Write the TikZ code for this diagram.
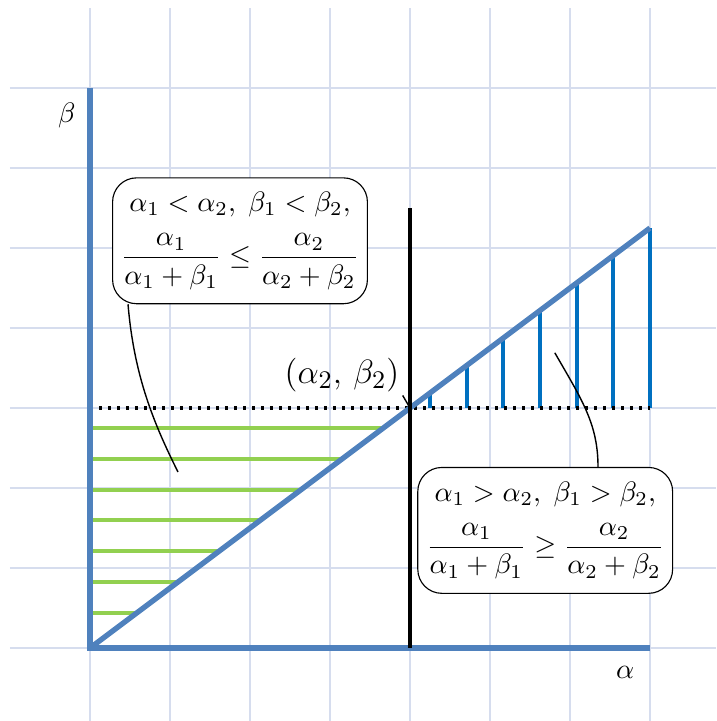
\documentclass[tikz,border=0pt]{standalone}
\usepackage{amsmath, amssymb}
\usepackage{tikz}
\usetikzlibrary{positioning, calc}

\definecolor{axisblue}{RGB}{79,129,189}
\definecolor{hatchblue}{RGB}{0,112,192}
\definecolor{hatchgreen}{RGB}{146,208,80}
\definecolor{gridblue}{RGB}{214,221,238}

\begin{document}
\begin{tikzpicture}[
      gridline/.style={gridblue,line width=0.5pt},
      axis/.style={axisblue,line width=1.9pt},
      hatchg/.style={hatchgreen,line width=1.4pt},
      hatchb/.style={hatchblue,line width=1.4pt},
      note/.style={draw,rounded corners=3mm,align=center,inner xsep=3pt,
                   inner ysep=5pt,fill=white,font=\fontsize{10.2}{13}\selectfont},
      lead/.style={line width=0.5pt}]
  \useasboundingbox (-1.125,-0.9125) rectangle (7.825,8.1);

  \foreach \i in {0,...,7} {
    \draw[gridline] (-1,\i) -- (7.825,\i);
    \draw[gridline] (\i,-0.9125) -- (\i,8);
  }

  % hatching of the two regions
  \foreach \k in {0,...,6} {
    \pgfmathsetmacro{\yy}{0.44+0.385*\k}
    \draw[hatchg] (0.03,\yy) -- ({\yy/0.75},\yy);
    \pgfmathsetmacro{\xx}{4.25+0.458*\k}
    \draw[hatchb] (\xx,3) -- (\xx,{0.75*\xx});
  }

  \coordinate (O) at (0,0);
  \coordinate (P) at (4,3);
  \coordinate (top) at (4,5.5);
  \coordinate (foot) at (4,0);

  \draw[dash pattern=on 1.1pt off 2.1pt, line width=1.2pt] (0,3) -- (7,3);
  \draw[axis] (0,7) -- (O) -- (7,0);
  \draw[axis] (O) -- (7,5.25);
  \draw[line width=1.1pt] (foot) -- (top);

  \node (betalab) at (-0.29,6.66) {$\beta$};
  \node (alphalab) at (6.69,-0.3) {$\alpha$};
  \node[inner sep=1pt, font=\fontsize{13}{15}\selectfont] (ptlab) at (3.15,3.41)
       {$(\alpha_2,\,\beta_2)$};
  \draw[lead] (ptlab.south east) -- (P);

  \node[note] (lowbox) at (1.875,5.09)
       {$\alpha_1<\alpha_2,\;\beta_1<\beta_2,$\\[5pt]
        $\dfrac{\alpha_1}{\alpha_1+\beta_1}\leq\dfrac{\alpha_2}{\alpha_2+\beta_2}$};
  \node[note] (highbox) at (5.69,1.47)
       {$\alpha_1>\alpha_2,\;\beta_1>\beta_2,$\\[5pt]
        $\dfrac{\alpha_1}{\alpha_1+\beta_1}\geq\dfrac{\alpha_2}{\alpha_2+\beta_2}$};

  \coordinate (lowtip) at (1.1,2.2);
  \coordinate (hightip) at (5.81,3.69);
  \draw[lead] ($(lowbox.south west)+(0.2,0)$)
        .. controls (0.55,3.4) and (0.8,2.8) .. (lowtip);
  \draw[lead] ($(highbox.north)+(0.66,0)$)
        .. controls (6.35,2.8) and (6.15,3.1) .. (hightip);
\end{tikzpicture}
\end{document}
